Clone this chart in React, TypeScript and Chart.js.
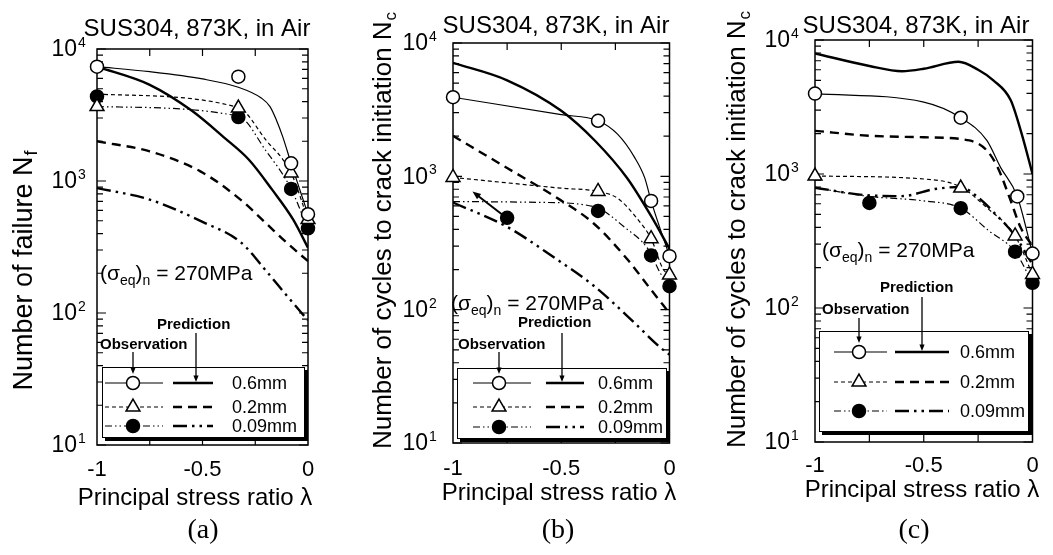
import React, { useEffect, useRef } from "react";
import { Chart, registerables } from "chart.js";

Chart.register(...registerables);

const FONT = "'Liberation Sans', Arial, Helvetica, sans-serif";
const SERIF = "'Liberation Serif', 'Times New Roman', serif";

// ---------- shared axis / legend text ----------
const X_TICK_VALUES = [-1, -0.5, 0];
const X_TICK_LABELS = ["-1", "-0.5", "0"];
const X_MINOR_TICKS = [-0.75, -0.5, -0.25];
const Y_DECADES = [10, 100, 1000, 10000];
const Y_EXPONENTS = ["1", "2", "3", "4"];
const Y_MINOR_FACTORS = [2, 3, 4, 5, 6, 7, 8, 9];
const SIZE_LABELS = ["0.6mm", "0.2mm", "0.09mm"];
const PLOT_TITLE = "SUS304, 873K, in Air";
const X_TITLE = "Principal stress ratio λ";

// ---------- panel (a): number of failure ----------
const A_OBS_X = [-1, -0.33, -0.08, 0];
const A_OBS_06 = [7350, 6170, 1360, 560];
const A_OBS_02 = [3660, 3570, 1150, 510];
const A_OBS_009 = [4370, 3050, 870, 438];
const A_FIT_06_X = [-1, -0.75, -0.5, -0.33, -0.22, -0.18, -0.15, -0.12, -0.08, -0.04, 0];
const A_FIT_06_Y = [7350, 6730, 5930, 5130, 4240, 3660, 2900, 2170, 1360, 870, 560];
const A_FIT_02_X = [-1, -0.33, -0.2, -0.08, 0];
const A_FIT_02_Y = [4550, 3600, 2050, 1150, 510];
const A_FIT_009_X = [-1, -0.33, -0.2, -0.08, 0];
const A_FIT_009_Y = [3660, 3100, 1700, 870, 430];
const A_PRED_06_X = [-1, -0.75, -0.55, -0.4, -0.28, -0.17, -0.07, 0];
const A_PRED_06_Y = [7350, 5350, 3400, 2150, 1450, 860, 510, 312];
const A_PRED_02_X = [-1, -0.75, -0.51, -0.32, -0.2, -0.1, 0];
const A_PRED_02_Y = [2000, 1675, 1183, 723, 480, 340, 247];
const A_PRED_009_X = [-1, -0.75, -0.5, -0.32, -0.2, -0.1, 0];
const A_PRED_009_Y = [884, 723, 490, 345, 210, 135, 88];

// ---------- panel (b): cycles to crack initiation ----------
const B_OBS_X = [-1, -0.33, -0.085, 0];
const B_OBS_06 = [3920, 2610, 654, 252];
const B_OBS_02 = [982, 770, 341, 182];
const B_OBS_009_X = [-0.75, -0.33, -0.085, 0];
const B_OBS_009 = [489, 550, 255, 150];
const B_FIT_06_X = [-1, -0.5, -0.33, -0.24, -0.16, -0.114, -0.085, 0];
const B_FIT_06_Y = [3920, 2900, 2610, 2070, 1376, 970, 654, 252];
const B_FIT_02_X = [-1, -0.5, -0.33, -0.24, -0.15, -0.085, -0.03, 0];
const B_FIT_02_Y = [982, 815, 770, 685, 483, 341, 202, 182];
const B_FIT_009_X = [-1, -0.6, -0.35, -0.2, -0.1, -0.04, 0];
const B_FIT_009_Y = [647, 638, 593, 406, 286, 185, 150];
const B_PRED_06_X = [-1, -0.75, -0.5, -0.343, -0.196, -0.088, 0];
const B_PRED_06_Y = [7100, 5250, 3100, 1840, 971, 513, 286];
const B_PRED_02_X = [-1, -0.75, -0.505, -0.35, -0.196, -0.088, 0];
const B_PRED_02_Y = [2010, 1155, 666, 443, 240, 143, 94];
const B_PRED_009_X = [-1, -0.75, -0.536, -0.35, -0.196, -0.042, 0];
const B_PRED_009_Y = [636, 418, 248, 151, 90, 52, 46];
const B_ARROW_X = [-0.77, -0.91];
const B_ARROW_Y = [513, 769];

// ---------- panel (c): cycles to crack initiation ----------
const C_OBS_06_X = [-1, -0.33, -0.07, 0];
const C_OBS_06 = [3980, 2630, 680, 255];
const C_OBS_02_X = [-1, -0.33, -0.08, 0];
const C_OBS_02 = [966, 785, 345, 178];
const C_OBS_009_X = [-0.75, -0.33, -0.08, 0];
const C_OBS_009 = [608, 556, 263, 154];
const C_FIT_06_X = [-1, -0.5, -0.33, -0.21, -0.147, -0.07, 0];
const C_FIT_06_Y = [3980, 3440, 2630, 1780, 1120, 680, 255];
const C_FIT_02_X = [-1, -0.5, -0.33, -0.21, -0.08, 0];
const C_FIT_02_Y = [966, 918, 800, 560, 345, 178];
const C_FIT_009_X = [-1, -0.75, -0.5, -0.33, -0.2, -0.08, 0];
const C_FIT_009_Y = [789, 680, 630, 556, 376, 263, 154];
const C_PRED_06_X = [-1, -0.75, -0.6, -0.5, -0.34, -0.25, -0.18, -0.1, -0.05, 0];
const C_PRED_06_Y = [7940, 6400, 5850, 6100, 6880, 6000, 5000, 3550, 2000, 1000];
const C_PRED_02_X = [-1, -0.75, -0.5, -0.29, -0.21, -0.16, -0.1, -0.055, 0];
const C_PRED_02_Y = [2100, 1930, 1880, 1780, 1500, 1120, 630, 400, 290];
const C_PRED_009_X = [-1, -0.75, -0.6, -0.45, -0.33, -0.25, -0.17, -0.08, 0];
const C_PRED_009_Y = [789, 692, 684, 772, 800, 668, 501, 345, 211];

// ---------- styles ----------
const THIN = 1.2;
const THICK = 2.4;
const DASH_OBS_02 = [4, 3];
const DASH_OBS_009 = [7, 3, 1.5, 3, 1.5, 3];
const DASH_PRED_02 = [9, 6];
const DASH_PRED_009 = [14, 5, 2.5, 5, 2.5, 5];

type Series = { x: number[]; y: number[] };
type Legend = {
  box: [number, number, number, number];
  rows: number[];
  obsLine: [number, number];
  sym: number;
  predLine: [number, number];
  labelX: number;
  obsText: [number, number];
  obsArrow: [number, number, number];
  predText: [number, number];
  predArrow: [number, number, number];
};
type Panel = {
  offset: number;
  area: { left: number; right: number; top: number; bottom: number };
  obs06: Series; obs02: Series; obs009: Series;
  fit06: Series; fit02: Series; fit009: Series;
  pred06: Series; pred02: Series; pred009: Series;
  title: [number, number];
  yTitle: { main: string; sub: string; x: number; y: number; size: number };
  yTickRight: number;
  xTitle: [number, number];
  xTickPad: number;
  letter: { text: string; x: number; y: number };
  sigma: [number, number];
  legend: Legend;
  arrow?: Series;
};

const S = (x: number[], y: number[]): Series => ({ x, y });

const PANELS: Panel[] = [
  {
    offset: 0,
    area: { left: 97, right: 308, top: 49, bottom: 445 },
    obs06: S(A_OBS_X, A_OBS_06), obs02: S(A_OBS_X, A_OBS_02), obs009: S(A_OBS_X, A_OBS_009),
    fit06: S(A_FIT_06_X, A_FIT_06_Y), fit02: S(A_FIT_02_X, A_FIT_02_Y), fit009: S(A_FIT_009_X, A_FIT_009_Y),
    pred06: S(A_PRED_06_X, A_PRED_06_Y), pred02: S(A_PRED_02_X, A_PRED_02_Y), pred009: S(A_PRED_009_X, A_PRED_009_Y),
    title: [197, 36],
    yTitle: { main: "Number of failure N", sub: "f", x: 32, y: 271, size: 27 },
    yTickRight: 77,
    xTitle: [195, 505],
    xTickPad: 12,
    letter: { text: "(a)", x: 203, y: 538 },
    sigma: [100, 280],
    legend: {
      box: [102, 367, 206, 74], rows: [383, 407, 426], obsLine: [105, 163], sym: 133,
      predLine: [173, 213], labelX: 232, obsText: [100, 345], obsArrow: [133, 352, 374],
      predText: [157, 325], predArrow: [196, 333, 382],
    },
  },
  {
    offset: 351,
    area: { left: 453, right: 669.5, top: 43, bottom: 443 },
    obs06: S(B_OBS_X, B_OBS_06), obs02: S(B_OBS_X, B_OBS_02), obs009: S(B_OBS_009_X, B_OBS_009),
    fit06: S(B_FIT_06_X, B_FIT_06_Y), fit02: S(B_FIT_02_X, B_FIT_02_Y), fit009: S(B_FIT_009_X, B_FIT_009_Y),
    pred06: S(B_PRED_06_X, B_PRED_06_Y), pred02: S(B_PRED_02_X, B_PRED_02_Y), pred009: S(B_PRED_009_X, B_PRED_009_Y),
    title: [556, 33],
    yTitle: { main: "Number of cycles to crack initiation N", sub: "c", x: 391, y: 231, size: 26 },
    yTickRight: 428,
    xTitle: [559, 500],
    xTickPad: 13,
    letter: { text: "(b)", x: 558, y: 538 },
    sigma: [451, 310],
    legend: {
      box: [457, 368, 213, 74], rows: [383, 407, 427], obsLine: [473, 531], sym: 499,
      predLine: [546, 584], labelX: 598, obsText: [458, 345], obsArrow: [499, 352, 374],
      predText: [518, 323], predArrow: [562, 333, 382],
    },
    arrow: S(B_ARROW_X, B_ARROW_Y),
  },
  {
    offset: 702,
    area: { left: 815, right: 1032.5, top: 40, bottom: 442 },
    obs06: S(C_OBS_06_X, C_OBS_06), obs02: S(C_OBS_02_X, C_OBS_02), obs009: S(C_OBS_009_X, C_OBS_009),
    fit06: S(C_FIT_06_X, C_FIT_06_Y), fit02: S(C_FIT_02_X, C_FIT_02_Y), fit009: S(C_FIT_009_X, C_FIT_009_Y),
    pred06: S(C_PRED_06_X, C_PRED_06_Y), pred02: S(C_PRED_02_X, C_PRED_02_Y), pred009: S(C_PRED_009_X, C_PRED_009_Y),
    title: [916, 33],
    yTitle: { main: "Number of cycles to crack initiation N", sub: "c", x: 745, y: 230, size: 26 },
    yTickRight: 790,
    xTitle: [922, 497],
    xTickPad: 11,
    letter: { text: "(c)", x: 914, y: 538 },
    sigma: [822, 257],
    legend: {
      box: [819, 331, 213, 104], rows: [352, 382, 411], obsLine: [834, 887], sym: 859,
      predLine: [895, 949], labelX: 960, obsText: [822, 310], obsArrow: [859, 318, 343],
      predText: [880, 288], predArrow: [922, 297, 351],
    },
  },
];

const pts = (s: Series) => s.x.map((x, i) => ({ x, y: s.y[i] }));

function lineDs(s: Series, width: number, dash: number[]) {
  return {
    type: "line" as const,
    data: pts(s),
    borderColor: "#000",
    borderWidth: width,
    borderDash: dash,
    pointRadius: 0,
    fill: false,
    tension: 0.4,
    cubicInterpolationMode: "monotone" as const,
  };
}

function markerDs(s: Series, style: string, radius: number, fillColor: string) {
  return {
    type: "line" as const,
    data: pts(s),
    showLine: false,
    pointStyle: style,
    pointRadius: radius,
    pointBackgroundColor: fillColor,
    pointBorderColor: "#000",
    pointBorderWidth: 1.5,
    borderColor: "#000",
    backgroundColor: fillColor,
    clip: false,
  };
}

function drawSymbol(ctx: CanvasRenderingContext2D, kind: number, x: number, y: number) {
  ctx.save();
  ctx.setLineDash([]);
  ctx.lineWidth = 1.5;
  ctx.strokeStyle = "#000";
  ctx.beginPath();
  if (kind === 1) {
    const r = 8;
    ctx.moveTo(x, y - r);
    ctx.lineTo(x + r * 0.866, y + r * 0.5);
    ctx.lineTo(x - r * 0.866, y + r * 0.5);
    ctx.closePath();
  } else {
    ctx.arc(x, y, 6.5, 0, Math.PI * 2);
  }
  ctx.fillStyle = kind === 2 ? "#000" : "#fff";
  ctx.fill();
  ctx.stroke();
  ctx.restore();
}

function drawArrow(ctx: CanvasRenderingContext2D, x1: number, y1: number, x2: number, y2: number, head = 8, width = 1.5) {
  ctx.save();
  ctx.setLineDash([]);
  ctx.strokeStyle = "#000";
  ctx.fillStyle = "#000";
  ctx.lineWidth = width;
  const a = Math.atan2(y2 - y1, x2 - x1);
  ctx.beginPath();
  ctx.moveTo(x1, y1);
  ctx.lineTo(x2 - Math.cos(a) * head * 0.8, y2 - Math.sin(a) * head * 0.8);
  ctx.stroke();
  ctx.beginPath();
  ctx.moveTo(x2, y2);
  ctx.lineTo(x2 - head * Math.cos(a - 0.38), y2 - head * Math.sin(a - 0.38));
  ctx.lineTo(x2 - head * Math.cos(a + 0.38), y2 - head * Math.sin(a + 0.38));
  ctx.closePath();
  ctx.fill();
  ctx.restore();
}

function makePlugin(p: Panel) {
  return {
    id: "sketch" + p.offset,
    beforeDatasetsDraw(chart: any) {
      const { ctx, chartArea: ca } = chart;
      const xs = chart.scales.x;
      const ys = chart.scales.y;
      ctx.save();
      ctx.strokeStyle = "#000";
      ctx.lineWidth = 1.5;
      ctx.setLineDash([]);
      ctx.strokeRect(ca.left, ca.top, ca.right - ca.left, ca.bottom - ca.top);
      ctx.lineWidth = 1.2;
      ctx.beginPath();
      // y ticks (major + minor) on both sides, pointing inward
      Y_DECADES.forEach((d, i) => {
        const py = ys.getPixelForValue(d);
        ctx.moveTo(ca.left, py); ctx.lineTo(ca.left + 9, py);
        ctx.moveTo(ca.right, py); ctx.lineTo(ca.right - 9, py);
        if (i < Y_DECADES.length - 1) {
          Y_MINOR_FACTORS.forEach((m) => {
            const my = ys.getPixelForValue(m * d);
            ctx.moveTo(ca.left, my); ctx.lineTo(ca.left + 6, my);
            ctx.moveTo(ca.right, my); ctx.lineTo(ca.right - 6, my);
          });
        }
      });
      // x ticks top and bottom
      X_MINOR_TICKS.forEach((v) => {
        const px = xs.getPixelForValue(v);
        ctx.moveTo(px, ca.bottom); ctx.lineTo(px, ca.bottom - 7);
        ctx.moveTo(px, ca.top); ctx.lineTo(px, ca.top + 7);
      });
      ctx.stroke();
      ctx.restore();
    },
    afterDraw(chart: any) {
      const { ctx } = chart;
      const ys = chart.scales.y;
      const xs = chart.scales.x;
      ctx.save();
      ctx.translate(-p.offset, 0);
      ctx.fillStyle = "#000";
      ctx.setLineDash([]);

      // plot title
      ctx.font = `24px ${FONT}`;
      ctx.textAlign = "center";
      ctx.textBaseline = "alphabetic";
      ctx.fillText(PLOT_TITLE, p.title[0], p.title[1]);

      // x title
      ctx.fillText(X_TITLE, p.xTitle[0], p.xTitle[1]);

      // panel letter
      ctx.font = `28px ${SERIF}`;
      ctx.fillText(p.letter.text, p.letter.x, p.letter.y);

      // y tick labels 10^n
      Y_DECADES.forEach((d, i) => {
        const py = ys.getPixelForValue(d);
        ctx.font = `23px ${FONT}`;
        ctx.textAlign = "right";
        ctx.textBaseline = "middle";
        ctx.fillText("10", p.yTickRight, py + 1);
        ctx.font = `14px ${FONT}`;
        ctx.textAlign = "left";
        ctx.fillText(Y_EXPONENTS[i], p.yTickRight + 1, py - 6);
      });

      // y title with subscript
      {
        const yt = p.yTitle;
        ctx.save();
        ctx.translate(yt.x, yt.y);
        ctx.rotate(-Math.PI / 2);
        ctx.textBaseline = "alphabetic";
        ctx.textAlign = "left";
        const mainFont = `${yt.size}px ${FONT}`;
        const subFont = `${Math.round(yt.size * 0.65)}px ${FONT}`;
        ctx.font = mainFont;
        const wm = ctx.measureText(yt.main).width;
        ctx.font = subFont;
        const wsub = ctx.measureText(yt.sub).width;
        const x0 = -(wm + wsub) / 2;
        ctx.font = mainFont;
        ctx.fillText(yt.main, x0, 0);
        ctx.font = subFont;
        ctx.fillText(yt.sub, x0 + wm + 1, yt.size * 0.2);
        ctx.restore();
      }

      // (σeq)n = 270MPa
      {
        let cx = p.sigma[0];
        const by = p.sigma[1];
        ctx.textAlign = "left";
        ctx.textBaseline = "alphabetic";
        const part = (t: string, f: string, dy: number) => {
          ctx.font = f;
          ctx.fillText(t, cx, by + dy);
          cx += ctx.measureText(t).width;
        };
        const big = `21px ${FONT}`;
        const small = `14px ${FONT}`;
        part("(σ", big, 0);
        part("eq", small, 5);
        part(")", big, 0);
        part("n", small, 5);
        part(" = 270MPa", big, 0);
      }

      // arrow in panel (b)
      if (p.arrow) {
        const a = p.arrow;
        drawArrow(
          ctx,
          xs.getPixelForValue(a.x[0]) + p.offset, ys.getPixelForValue(a.y[0]),
          xs.getPixelForValue(a.x[1]) + p.offset, ys.getPixelForValue(a.y[1]),
          9, 2
        );
      }

      // legend
      {
        const L = p.legend;
        const [bx, by, bw, bh] = L.box;
        ctx.fillStyle = "#000";
        ctx.fillRect(bx + 3, by + 3, bw - 3, bh - 3);
        ctx.fillStyle = "#fff";
        ctx.fillRect(bx, by, bw - 3, bh - 3);
        ctx.strokeStyle = "#000";
        ctx.lineWidth = 1;
        ctx.strokeRect(bx + 0.5, by + 0.5, bw - 4, bh - 4);

        const obsDash = [[], DASH_OBS_02, DASH_OBS_009];
        const predDash = [[], DASH_PRED_02, DASH_PRED_009];
        L.rows.forEach((ry, i) => {
          ctx.save();
          ctx.strokeStyle = "#000";
          ctx.lineWidth = THIN;
          ctx.setLineDash(obsDash[i]);
          ctx.beginPath();
          ctx.moveTo(L.obsLine[0], ry);
          ctx.lineTo(L.obsLine[1], ry);
          ctx.stroke();
          ctx.lineWidth = THICK;
          ctx.setLineDash(predDash[i]);
          ctx.beginPath();
          ctx.moveTo(L.predLine[0], ry);
          ctx.lineTo(L.predLine[1], ry);
          ctx.stroke();
          ctx.restore();
          drawSymbol(ctx, i, L.sym, ry);
          ctx.fillStyle = "#000";
          ctx.font = `18px ${FONT}`;
          ctx.textAlign = "left";
          ctx.textBaseline = "middle";
          ctx.fillText(SIZE_LABELS[i], L.labelX, ry + 1);
        });

        ctx.fillStyle = "#000";
        ctx.font = `bold 15px ${FONT}`;
        ctx.textAlign = "left";
        ctx.textBaseline = "middle";
        ctx.fillText("Observation", L.obsText[0], L.obsText[1]);
        ctx.fillText("Prediction", L.predText[0], L.predText[1]);
        drawArrow(ctx, L.obsArrow[0], L.obsArrow[1], L.obsArrow[0], L.obsArrow[2], 7, 1.3);
        drawArrow(ctx, L.predArrow[0], L.predArrow[1], L.predArrow[0], L.predArrow[2], 7, 1.3);
      }
      ctx.restore();
    },
  };
}

function buildConfig(p: Panel): any {
  const localLeft = p.area.left - p.offset;
  const padRight = p.offset + 351 - p.area.right;
  return {
    type: "line",
    data: {
      datasets: [
        markerDs(p.obs06, "circle", 6.5, "#fff"),
        markerDs(p.obs02, "triangle", 8, "#fff"),
        markerDs(p.obs009, "circle", 6.5, "#000"),
        lineDs(p.fit06, THIN, []),
        lineDs(p.fit02, THIN, DASH_OBS_02),
        lineDs(p.fit009, THIN, DASH_OBS_009),
        lineDs(p.pred06, THICK, []),
        lineDs(p.pred02, THICK, DASH_PRED_02),
        lineDs(p.pred009, THICK, DASH_PRED_009),
      ],
    },
    options: {
      animation: false,
      responsive: false,
      maintainAspectRatio: false,
      devicePixelRatio: 1,
      events: [],
      layout: { padding: { top: p.area.top, right: padRight, left: 0, bottom: 0 } },
      plugins: {
        legend: { display: false },
        tooltip: { enabled: false },
        title: { display: false },
      },
      scales: {
        x: {
          type: "linear",
          min: -1,
          max: 0,
          position: "bottom",
          afterBuildTicks: (s: any) => {
            s.ticks = X_TICK_VALUES.map((v) => ({ value: v }));
          },
          ticks: {
            callback: (v: number) => X_TICK_LABELS[X_TICK_VALUES.indexOf(v)] ?? "",
            font: { family: FONT, size: 22 },
            color: "#000",
            padding: p.xTickPad,
            maxRotation: 0,
            autoSkip: false,
          },
          grid: { display: false, drawTicks: false },
          border: { display: false },
          afterFit: (s: any) => {
            s.height = 555 - p.area.bottom;
          },
        },
        y: {
          type: "logarithmic",
          min: 10,
          max: 10000,
          ticks: { display: false },
          grid: { display: false, drawTicks: false },
          border: { display: false },
          afterFit: (s: any) => {
            s.width = localLeft;
          },
        },
      },
    },
    plugins: [makePlugin(p)],
  };
}

function PanelChart({ p }: { p: Panel }) {
  const ref = useRef<HTMLCanvasElement>(null);
  useEffect(() => {
    const chart = new Chart(ref.current as HTMLCanvasElement, buildConfig(p));
    return () => chart.destroy();
  }, [p]);
  return (
    <canvas
      ref={ref}
      width={351}
      height={555}
      style={{ position: "absolute", left: p.offset, top: 0, width: 351, height: 555 }}
    />
  );
}

export default function App() {
  return (
    <div
      style={{
        position: "fixed",
        left: 0,
        top: 0,
        width: 1053,
        height: 555,
        background: "#fff",
        overflow: "hidden",
      }}
    >
      {PANELS.map((p) => (
        <PanelChart key={p.offset} p={p} />
      ))}
    </div>
  );
}
